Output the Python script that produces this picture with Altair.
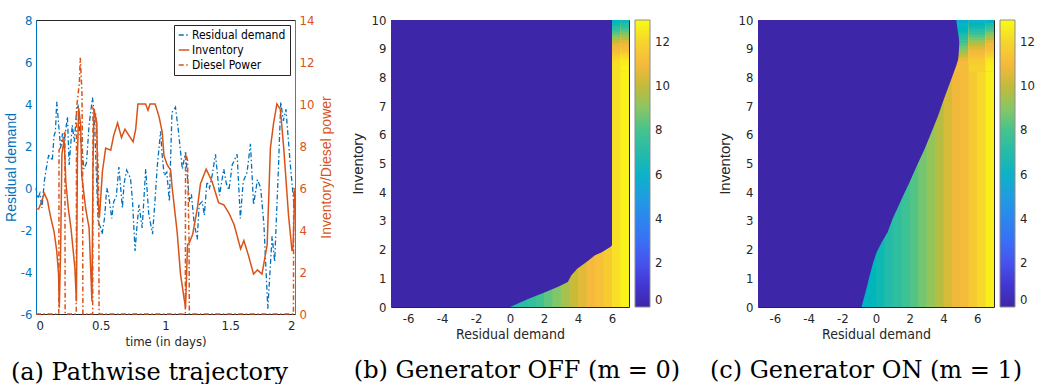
import altair as alt
import pandas as pd

BLUE = "#0072BD"
ORANGE = "#D95319"
DARK = "#262626"
NARROW = "Liberation Sans Narrow, DejaVu Sans Condensed, Liberation Sans, sans-serif"
SANS = "Liberation Sans, Arial, sans-serif"
SERIF = "DejaVu Serif, serif"
MINUS = "replace(datum.label, '\u2212', '-')"

SERIES = ["Residual demand", "Inventory", "Diesel Power"]

# ---------------- panel (a) data ----------------
RD_T = [0.000, 0.013, 0.030, 0.046, 0.064, 0.077, 0.097, 0.110, 0.125, 0.140, 0.150, 0.160,
        0.178, 0.190, 0.205, 0.220, 0.243, 0.256, 0.280, 0.296, 0.315, 0.325, 0.340, 0.358,
        0.370, 0.390, 0.410, 0.436, 0.450, 0.460, 0.480, 0.500, 0.510, 0.530, 0.546, 0.560,
        0.585, 0.600, 0.620, 0.640, 0.667, 0.680, 0.700, 0.730, 0.745, 0.765, 0.780, 0.795,
        0.820, 0.847, 0.870, 0.900, 0.920, 0.936, 0.962, 0.975, 0.990, 1.010, 1.030, 1.050,
        1.077, 1.100, 1.130, 1.154, 1.185, 1.200, 1.220, 1.245, 1.260, 1.283, 1.300, 1.320,
        1.340, 1.360, 1.386, 1.417, 1.450, 1.470, 1.490, 1.515, 1.553, 1.578, 1.600, 1.630,
        1.656, 1.680, 1.710, 1.735, 1.760, 1.790, 1.823, 1.843, 1.873, 1.890, 1.910, 1.930,
        1.964, 1.990, 2.000]
RD_V = [0.0, -0.5, -0.25, -0.95, 0.3, 0.85, 1.55, 1.5, 1.3, 2.5, 2.7, 4.1,
        2.8, 1.9, 2.6, 2.3, 3.4, 1.1, 3.0, 2.2, 3.8, 3.9, 2.5, 1.7,
        0.9, 1.2, 3.0, 4.3, 3.6, 1.7, -1.6, -1.9, -2.2, -1.4, 0.0, -0.3,
        -1.45, -0.65, -0.4, 1.0, -0.95, 0.2, 0.85, 0.45, -0.6, -3.0, -1.8, -0.8,
        -1.9, 0.9, -1.2, -2.2, -0.5, 1.0, 2.7, 1.5, 0.6, 0.75, -0.65, 3.6,
        3.85, 2.7, 0.9, 1.7, -0.65, -0.3, -1.6, -2.45, -0.8, -0.65, -1.3, 0.3,
        0.0, 0.6, 1.6, -0.35, 0.9, 0.2, -0.1, 1.1, 1.6, -1.45, 0.3, 0.75,
        2.1, -0.8, 0.4, 0.0, -1.75, -5.75, -2.3, -3.5, 1.1, 4.1, 3.2, 3.75,
        1.1, -0.65, -0.9]

INV_T = [0.000, 0.020, 0.040, 0.064, 0.089, 0.110, 0.140, 0.160, 0.174, 0.180, 0.190, 0.200,
         0.217, 0.223, 0.230, 0.250, 0.270, 0.300, 0.312, 0.320, 0.330, 0.345, 0.353, 0.384,
         0.410, 0.432, 0.440, 0.448, 0.470, 0.476, 0.490, 0.513, 0.538, 0.577, 0.600, 0.630,
         0.660, 0.687, 0.718, 0.750, 0.770, 0.787, 0.846, 0.865, 0.880, 0.920, 0.950, 0.975,
         0.988, 1.013, 1.040, 1.050, 1.090, 1.116, 1.142, 1.155, 1.170, 1.185, 1.210, 1.245,
         1.270, 1.314, 1.360, 1.410, 1.450, 1.490, 1.530, 1.580, 1.605, 1.640, 1.680, 1.710,
         1.745, 1.785, 1.810, 1.835, 1.860, 1.887, 1.913, 1.950, 1.977, 1.985, 2.000]
INV_V = [5.0, 5.0, 5.3, 5.75, 5.4, 4.7, 3.9, 3.0, 1.9, 0.3, 3.0, 7.6,
         8.3, 7.5, 6.3, 5.0, 4.1, 2.2, 0.6, 7.5, 9.8, 9.0, 6.6, 5.0,
         4.1, 0.6, 7.0, 9.75, 9.1, 5.7, 4.6, 6.8, 7.9, 7.8, 8.5, 9.1,
         8.4, 8.8, 8.5, 8.2, 8.8, 10.0, 10.0, 9.7, 10.0, 10.0, 9.4, 8.65,
         7.55, 7.1, 6.85, 6.1, 3.9, 1.9, 0.8, 0.3, 3.3, 3.4, 3.8, 5.0,
         6.2, 6.9, 6.3, 5.3, 5.2, 4.8, 4.25, 3.1, 3.5, 2.8, 1.9, 2.1,
         1.9, 3.3, 7.9, 9.1, 10.0, 9.75, 7.9, 4.7, 3.0, 3.2, 6.0]

DP_T = [0.000, 0.176, 0.178, 0.200, 0.223, 0.225, 0.311, 0.313, 0.335, 0.342, 0.355, 0.360,
        0.362, 0.438, 0.440, 0.460, 0.480, 0.485, 0.487, 1.153, 1.155, 1.170, 1.182, 1.184,
        1.988, 1.990, 2.000]
DP_V = [0.0, 0.0, 7.8, 8.1, 8.7, 0.0, 0.0, 9.8, 11.0, 12.2, 10.5, 6.5,
        0.0, 0.0, 9.8, 9.6, 7.0, 5.0, 0.0, 0.0, 7.7, 7.3, 3.4, 0.0,
        0.0, 6.0, 5.8]

# ---------------- heat-map data ----------------
# zero region: for each residual demand, the inventory range [lo, hi] where the value is 0
B_EDGE_X = [-7.0, 0.0, 1.1, 2.1, 2.9, 3.4, 3.6, 3.95, 4.5, 5.0, 5.4, 5.9, 6.0]
B_EDGE_LO = [0.0, 0.0, 0.29, 0.52, 0.72, 0.87, 1.1, 1.33, 1.57, 1.8, 1.91, 2.09, 2.15]
B_EDGE_HI = [10.0] * 13
C_EDGE_X = [-7.0, -0.86, -0.62, -0.42, -0.16, 0.04, 0.34, 0.68, 0.98, 1.53, 1.99, 2.43, 2.89,
            3.29, 3.69, 4.03, 4.4, 4.76, 4.86, 4.9, 4.94]
C_EDGE_LO = [0.0, 0.0, 0.52, 0.99, 1.57, 1.91, 2.26, 2.6, 3.07, 3.77, 4.35, 4.93, 5.51,
             6.09, 6.67, 7.25, 7.83, 8.41, 8.6, 8.76, 9.22]
C_EDGE_HI = [10.0] * 18 + [9.57, 9.45, 9.22]

# colour value per residual-demand column (columns start every 0.5)
COL_X0 = [-1.0, -0.5, 0.0, 0.5, 1.0, 1.5, 2.0, 2.5, 3.0, 3.5, 4.0, 4.5, 5.0, 5.5, 6.0, 6.5]
B_COL_Z = [6.5, 6.6, 6.9, 7.2, 7.5, 7.9, 8.4, 8.9, 9.5, 10.1, 10.6, 11.0, 11.3, 11.7, 12.3, 12.8]
C_COL_Z = [6.2, 6.4, 6.7, 7.0, 7.4, 7.8, 8.2, 8.7, 9.2, 9.8, 10.4, 10.9, 11.1, 11.6, 12.1, 12.7]

# top band (high inventory), rows start every 0.1
TOP_INV0 = [8.2, 8.3, 8.4, 8.5, 8.6, 8.7, 8.8, 8.9, 9.0, 9.1, 9.2, 9.3, 9.4, 9.5, 9.6, 9.7, 9.8, 9.9]
B_TOP_X0 = [6.0, 6.5]
B_TOP_Z = [
    [12.3, 12.3, 12.3, 12.2, 12.0, 11.7, 11.3, 11.0, 10.9, 10.6, 10.1, 9.5, 8.8, 8.2, 7.6, 7.1, 6.7, 6.4],
    [12.8, 12.8, 12.7, 12.6, 12.4, 12.1, 11.7, 11.3, 11.1, 10.9, 10.5, 9.9, 9.3, 8.7, 8.1, 7.5, 7.0, 6.7],
]
C_TOP_X0 = [4.5, 5.5, 6.5]
C_TOP_Z = [
    [11.1, 11.1, 11.1, 11.0, 10.7, 10.2, 9.6, 9.1, 8.6, 8.2, 7.8, 7.4, 7.0, 6.7, 6.4, 6.2, 6.0, 5.8],
    [11.9, 11.9, 11.8, 11.7, 11.5, 11.2, 11.0, 10.8, 10.4, 9.9, 9.3, 8.7, 8.1, 7.6, 7.1, 6.7, 6.3, 6.0],
    [12.7, 12.7, 12.6, 12.5, 12.3, 12.0, 11.7, 11.3, 11.1, 11.0, 10.6, 10.0, 9.4, 8.7, 8.0, 7.4, 6.9, 6.4],
]

PARULA = ["#3e26a8", "#4337d2", "#4752ee", "#3a70f5", "#2b86ee", "#1f9de0", "#0db2c8",
          "#25bba9", "#45c38f", "#88c665", "#c2bb3a", "#f5b93d", "#f5d52c", "#f9fb15"]
Z_DOMAIN = list(range(14))

# ---------------- panel (a) ----------------
rd_df = pd.DataFrame({"t": RD_T, "v": RD_V, "series": SERIES[0], "idx": range(len(RD_T))})
inv_df = pd.DataFrame({"t": INV_T, "v": INV_V, "series": SERIES[1], "idx": range(len(INV_T))})
dp_df = pd.DataFrame({"t": DP_T, "v": DP_V, "series": SERIES[2], "idx": range(len(DP_T))})
right_df = pd.concat([inv_df, dp_df], ignore_index=True)

DASH = [5, 2.5, 1.5, 2.5]
legend_a = dict(title=None, orient="top-right", offset=5, padding=4, strokeColor=DARK,
                fillColor="white", labelFont=NARROW, labelFontSize=12, labelColor="black",
                symbolType="stroke", symbolSize=110, symbolStrokeWidth=1.5, rowPadding=3,
                labelOffset=2)
color_a = alt.Color("series:N", scale=alt.Scale(domain=SERIES, range=[BLUE, ORANGE, ORANGE]),
                    legend=alt.Legend(**legend_a))
dash_a = alt.StrokeDash("series:N", scale=alt.Scale(domain=SERIES, range=[DASH, [1, 0], DASH]),
                        legend=alt.Legend(**legend_a))

x_a = alt.X("t:Q", scale=alt.Scale(domain=[0, 2], nice=False),
            axis=alt.Axis(values=[0, 0.5, 1, 1.5, 2], format="~g", title="time (in days)",
                          grid=False, ticks=False, tickSize=0, domainColor=DARK, labelColor=DARK,
                          labelFont=NARROW, labelFontSize=13, titleFont=NARROW, titleFontSize=13,
                          titleFontWeight="normal", titleColor=DARK, labelPadding=5, titlePadding=3))

left = alt.Chart(rd_df).mark_line(strokeWidth=1.3).encode(
    x=x_a,
    y=alt.Y("v:Q", scale=alt.Scale(domain=[-6, 8], nice=False),
            axis=alt.Axis(orient="left", values=list(range(-6, 9, 2)), title="Residual demand",
                          labelExpr=MINUS, grid=False, ticks=False, tickSize=0,
                          domainColor=BLUE, labelColor=BLUE,
                          titleColor=BLUE, labelFont=NARROW, labelFontSize=13, titleFont=SANS,
                          titleFontSize=14, titleFontWeight="normal", labelPadding=4,
                          titlePadding=2)),
    color=color_a, strokeDash=dash_a, order="idx:Q")

right = alt.Chart(right_df).mark_line(strokeWidth=1.5).encode(
    x=x_a,
    y=alt.Y("v:Q", scale=alt.Scale(domain=[0, 14], nice=False),
            axis=alt.Axis(orient="right", values=list(range(0, 15, 2)),
                          title="Inventory/Diesel power", titleAngle=270, titleBaseline="top",
                          grid=False, ticks=False, tickSize=0,
                          domainColor=ORANGE, labelColor=ORANGE, titleColor=ORANGE,
                          labelFont=NARROW, labelFontSize=13, titleFont=SANS, titleFontSize=14,
                          titleFontWeight="normal", labelPadding=4, titlePadding=6)),
    color=color_a, strokeDash=dash_a, order="idx:Q")


def caption(text, dx, offset):
    return alt.TitleParams(text=text, orient="bottom", anchor="middle", font=SERIF, fontSize=24,
                           fontWeight="normal", color="black", dx=dx, offset=offset)


panel_a = alt.layer(left, right).resolve_scale(y="independent").properties(
    width=259, height=294, title=caption("(a) Pathwise trajectory", -16, 13))


# ---------------- heat-map panels ----------------
def heat_panel(edge_x, edge_lo, edge_hi, col_z, top_x0, top_z, text, dx, width):
    # each cell reaches to the right/top edge; later cells paint over earlier ones
    recs = [{"x0": x0, "y0": 0.0, "z": z} for x0, z in zip(COL_X0, col_z)]
    for x0, zs in zip(top_x0, top_z):
        for y0, z in zip(TOP_INV0, zs):
            recs.append({"x0": x0, "y0": y0, "z": z})
    cells = pd.DataFrame(recs)
    cells["x1"] = 7.0
    cells["y1"] = 10.0
    zero = pd.DataFrame({"x": edge_x, "lo": edge_lo, "hi": edge_hi, "z": 0.0})

    cscale = alt.Scale(domain=Z_DOMAIN, range=PARULA)
    leg = alt.Legend(title=None, type="gradient", orient="right", direction="vertical",
                     gradientLength=287, gradientThickness=15, values=[0, 2, 4, 6, 8, 10, 12],
                     labelFont=NARROW, labelFontSize=13, labelColor=DARK,
                     gradientStrokeColor="#8c8c8c", gradientStrokeWidth=1, offset=6,
                     labelOffset=5, padding=0)
    xs = alt.Scale(domain=[-7, 7], nice=False)
    ys = alt.Scale(domain=[0, 10], nice=False)
    xax = alt.Axis(values=list(range(-6, 7, 2)), title="Residual demand", labelExpr=MINUS,
                   grid=False, ticks=False, tickSize=0, domain=False, labelFont=NARROW,
                   labelFontSize=13, labelColor=DARK, titleFont=NARROW, titleFontSize=14,
                   titleColor=DARK, titleFontWeight="normal", labelPadding=5, titlePadding=2)
    yax = alt.Axis(values=list(range(0, 11)), title="Inventory", grid=False, ticks=False,
                   tickSize=0, domain=False, labelFont=NARROW, labelFontSize=13,
                   labelColor=DARK, titleFont=SANS, titleFontSize=15, titleColor=DARK,
                   titleFontWeight="normal", labelPadding=5, titlePadding=6)
    rect = alt.Chart(cells).mark_rect().encode(
        x=alt.X("x0:Q", scale=xs, axis=xax), x2="x1:Q",
        y=alt.Y("y0:Q", scale=ys, axis=yax), y2="y1:Q",
        color=alt.Color("z:Q", scale=cscale, legend=leg))
    area = alt.Chart(zero).mark_area().encode(
        x=alt.X("x:Q", scale=xs, axis=xax),
        y=alt.Y("lo:Q", scale=ys, axis=yax), y2="hi:Q",
        color=alt.Color("z:Q", scale=cscale, legend=None))
    return alt.layer(rect, area).properties(width=width, height=287,
                                            title=caption(text, dx, 18))


panel_b = heat_panel(B_EDGE_X, B_EDGE_LO, B_EDGE_HI, B_COL_Z, B_TOP_X0, B_TOP_Z,
                     "(b) Generator OFF (m = 0)", 7, 238)
panel_c = heat_panel(C_EDGE_X, C_EDGE_LO, C_EDGE_HI, C_COL_Z, C_TOP_X0, C_TOP_Z,
                     "(c) Generator ON (m = 1)", -10, 236)

RES = dict(color="independent", strokeDash="independent")

inner = alt.hconcat(panel_b, panel_c, spacing=129, bounds="flush").resolve_scale(
    **RES).resolve_legend(**RES)

chart = alt.hconcat(panel_a, inner, spacing=96, bounds="flush").resolve_scale(
    **RES).resolve_legend(**RES).properties(
    padding={"left": 3, "top": 13, "right": 0, "bottom": 0},
    background="white",
).configure_view(stroke=DARK, strokeWidth=1).configure_legend(gradientVerticalMaxLength=400)

chart.save("out.html", embed_options={"renderer": "svg", "actions": False})
